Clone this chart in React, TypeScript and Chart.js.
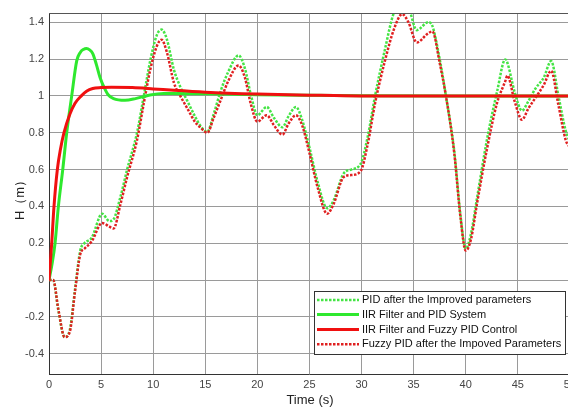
import React, { useEffect, useRef } from "react";
import { Chart, registerables } from "chart.js";
Chart.register(...registerables);

// IIR Filter and PID System
const pidTime = [0, 0.3, 0.58, 0.9, 1.32, 1.7, 2.18, 2.66, 3.0, 3.3, 3.6, 3.9, 4.2, 4.55, 4.9, 5.3, 5.7, 6.2, 7.3, 8.3, 9.7, 11, 15, 20, 25, 30, 40, 50];
const pidSystem = [0, 0.09, 0.2, 0.4, 0.6, 0.8, 1.0, 1.19, 1.236, 1.252, 1.257, 1.25, 1.23, 1.17, 1.1, 1.045, 1.005, 0.985, 0.976, 0.985, 1.005, 1.013, 1.012, 1.006, 1.003, 1.001, 1.0, 1.0];

// IIR Filter and Fuzzy PID Control
const fuzzyTime = [0, 0.26, 0.48, 0.8, 1.1, 1.44, 2.0, 2.5, 3.1, 3.6, 4.2, 5.0, 6.0, 8.0, 10, 12, 15, 20, 25, 30, 40, 50];
const fuzzyControl = [0, 0.2, 0.4, 0.6, 0.71, 0.8, 0.9, 0.96, 1.0, 1.025, 1.04, 1.045, 1.047, 1.045, 1.038, 1.03, 1.02, 1.01, 1.004, 1.0, 1.0, 1.0];

// Improved-parameter responses
const improvedTime = [0, 0.4, 0.9, 1.5, 2.0, 2.5, 3.0, 3.4, 4.1, 5.1, 5.8, 6.2, 6.85, 7.5, 8.45, 9.1, 9.75, 10.35, 10.8, 11.3, 12.0, 12.6, 13.3, 14.0, 14.5, 15.2, 15.8, 16.5, 17.2, 18.2, 18.8, 19.4, 20.0, 20.9, 21.6, 22.4, 23.0, 23.7, 24.3, 25.0, 25.8, 26.7, 27.3, 28.3, 29.0, 29.9, 30.6, 31.3, 32.2, 33.1, 33.9, 34.5, 35.3, 36.4, 36.8, 37.5, 38.1, 38.9, 39.5, 40.0, 40.5, 41.1, 42.0, 43.0, 43.8, 44.0, 44.7, 45.4, 46.0, 46.7, 47.5, 48.2, 48.9, 49.6, 50];
const pidImproved = [0, 0, -0.165, -0.31, -0.27, -0.05, 0.16, 0.2, 0.23, 0.36, 0.32, 0.33, 0.45, 0.6, 0.8, 1.0, 1.2, 1.33, 1.36, 1.31, 1.14, 1.05, 0.97, 0.89, 0.84, 0.805, 0.9, 1.03, 1.13, 1.22, 1.15, 1.0, 0.895, 0.94, 0.88, 0.83, 0.89, 0.94, 0.87, 0.72, 0.53, 0.39, 0.43, 0.58, 0.6, 0.63, 0.78, 1.0, 1.24, 1.45, 1.5, 1.48, 1.357, 1.4, 1.38, 1.2, 1.0, 0.7, 0.35, 0.17, 0.25, 0.45, 0.75, 1.02, 1.198, 1.18, 1.02, 0.92, 0.97, 1.04, 1.1, 1.189, 1.0, 0.81, 0.75];
const fuzzyImproved = [0, 0, -0.16, -0.31, -0.28, -0.06, 0.14, 0.17, 0.21, 0.31, 0.29, 0.28, 0.41, 0.56, 0.76, 0.96, 1.15, 1.27, 1.305, 1.24, 1.07, 1.0, 0.93, 0.86, 0.83, 0.8, 0.88, 0.98, 1.08, 1.165, 1.1, 0.95, 0.86, 0.895, 0.84, 0.79, 0.85, 0.895, 0.84, 0.69, 0.5, 0.36, 0.41, 0.56, 0.57, 0.59, 0.74, 0.96, 1.18, 1.36, 1.444, 1.4, 1.29, 1.34, 1.35, 1.18, 1.0, 0.69, 0.34, 0.16, 0.22, 0.42, 0.7, 0.96, 1.08, 1.11, 0.97, 0.87, 0.93, 0.99, 1.06, 1.136, 0.95, 0.76, 0.72];

const legendLabels = [
  "PID after the Improved parameters",
  "IIR Filter and PID System",
  "IIR Filter and Fuzzy PID Control",
  "Fuzzy PID after the Impoved Parameters",
];
const xTitle = "Time (s)";
const yTitle = "H（m）";

const GREEN = "#2ee82e";
const GREEN_DOT = "#44e444";
const RED = "#f01010";
const RED_DOT = "#e02020";

const FONT = '"Liberation Sans", Arial, sans-serif';

const toXY = (t: number[], v: number[]) => t.map((x, i) => ({ x, y: v[i] }));

const overlay = {
  id: "overlay",
  afterDraw(chart: any) {
    const { ctx, chartArea: a } = chart;
    ctx.save();
    ctx.strokeStyle = "#555";
    ctx.lineWidth = 1;
    ctx.beginPath();
    ctx.moveTo(a.left, a.top + 0.5);
    ctx.lineTo(a.right, a.top + 0.5);
    ctx.stroke();

    ctx.fillStyle = "#222";
    ctx.font = "13px " + FONT;
    ctx.textAlign = "center";
    ctx.textBaseline = "middle";
    ctx.fillText(xTitle, 310, 400);
    ctx.save();
    ctx.translate(20, 197);
    ctx.rotate(-Math.PI / 2);
    ctx.fillText(yTitle, 0, 0);
    ctx.restore();

    // legend
    const bx = 314.5, by = 291.5, bw = 251, bh = 63;
    ctx.fillStyle = "#fff";
    ctx.fillRect(bx, by, bw, bh);
    ctx.strokeStyle = "#333";
    ctx.lineWidth = 1;
    ctx.strokeRect(bx, by, bw, bh);
    const rows = [300, 314.5, 329.5, 344.3];
    const styles = [
      { c: GREEN_DOT, dash: [2.5, 1.5], w: 2.5 },
      { c: GREEN, dash: [], w: 3 },
      { c: RED, dash: [], w: 3 },
      { c: RED_DOT, dash: [2.5, 1.5], w: 2.5 },
    ];
    ctx.font = "11px " + FONT;
    ctx.textAlign = "left";
    rows.forEach((y, i) => {
      const s = styles[i];
      ctx.strokeStyle = s.c;
      ctx.lineWidth = s.w;
      ctx.setLineDash(s.dash);
      ctx.beginPath();
      ctx.moveTo(317, y);
      ctx.lineTo(359, y);
      ctx.stroke();
      ctx.setLineDash([]);
      ctx.fillStyle = "#111";
      ctx.fillText(legendLabels[i], 362, y);
    });
    ctx.restore();
  },
};

export default function App() {
  const ref = useRef<HTMLCanvasElement>(null);
  useEffect(() => {
    if (!ref.current) return;
    const dotted = { borderDash: [2.5, 1.5], borderWidth: 2.5, borderCapStyle: "butt" };
    const chart = new Chart(ref.current, {
      type: "line",
      data: {
        datasets: [
          { label: legendLabels[2], data: toXY(fuzzyTime, fuzzyControl), borderColor: RED, borderWidth: 3, pointRadius: 0, cubicInterpolationMode: "monotone" },
          { label: legendLabels[1], data: toXY(pidTime, pidSystem), borderColor: GREEN, borderWidth: 3, pointRadius: 0, cubicInterpolationMode: "monotone" },
          { label: legendLabels[3], data: toXY(improvedTime, fuzzyImproved), borderColor: RED_DOT, pointRadius: 0, cubicInterpolationMode: "monotone", ...dotted },
          { label: legendLabels[0], data: toXY(improvedTime, pidImproved), borderColor: GREEN_DOT, pointRadius: 0, cubicInterpolationMode: "monotone", ...dotted },
        ] as any,
      },
      options: {
        animation: false,
        responsive: true,
        maintainAspectRatio: false,
        layout: { padding: { left: 0, right: 7, top: 13, bottom: 0 } },
        plugins: { legend: { display: false }, tooltip: { enabled: false } },
        scales: {
          x: {
            type: "linear",
            min: 0,
            max: 50,
            afterFit: (s: any) => { s.height = 33; },
            ticks: { stepSize: 5, color: "#444", font: { size: 11, family: FONT }, padding: 4, includeBounds: false },
            grid: { color: "#9a9a9a", drawTicks: false },
            border: { color: "#333", width: 1 },
          },
          y: {
            type: "linear",
            min: -0.51,
            max: 1.45,
            afterFit: (s: any) => { s.width = 49; },
            ticks: {
              stepSize: 0.2,
              includeBounds: false,
              color: "#444",
              font: { size: 11, family: FONT },
              padding: 5,
              callback: (v: any) => String(Math.round(Number(v) * 10) / 10),
            },
            grid: { color: "#9a9a9a", drawTicks: false },
            border: { color: "#333", width: 1 },
          },
        },
      } as any,
      plugins: [overlay],
    });
    return () => chart.destroy();
  }, []);
  return (
    <div style={{ position: "fixed", left: 0, top: 0, width: 568, height: 407, overflow: "hidden", background: "#fff" }}>
      <div style={{ width: 580, height: 407 }}>
        <canvas ref={ref} />
      </div>
    </div>
  );
}
